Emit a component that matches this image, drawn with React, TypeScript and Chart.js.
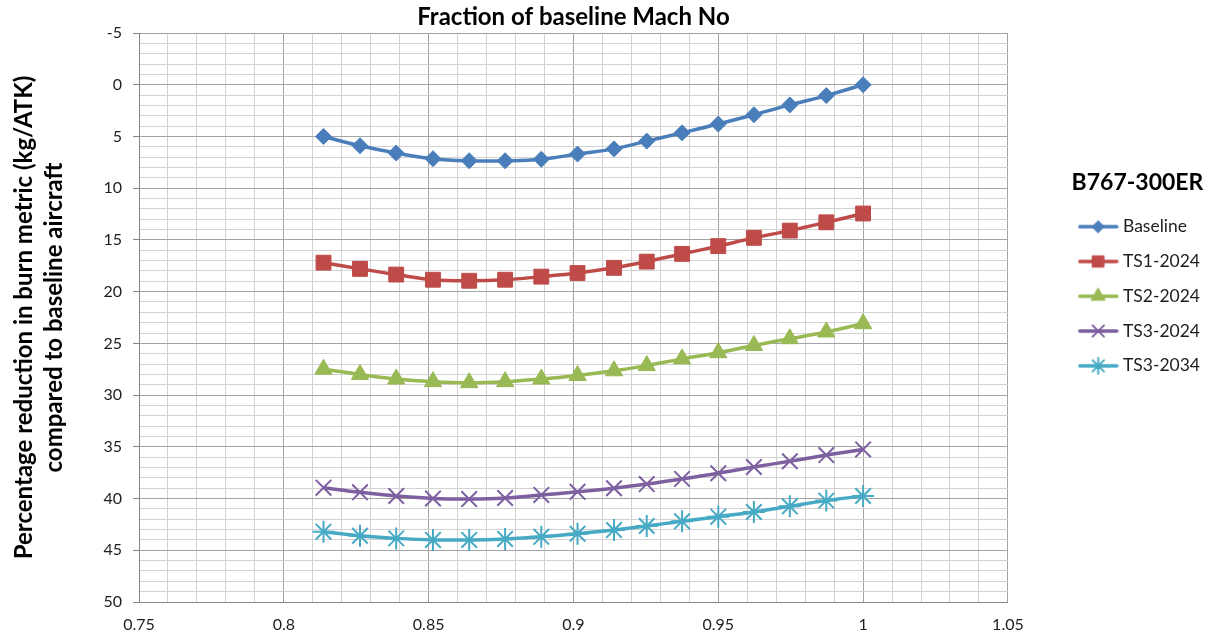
import React, { useEffect, useRef } from "react";
import { Chart, registerables } from "chart.js";
import { drawPoint } from "chart.js/helpers";

Chart.register(...registerables);

const machFraction = [0.8137, 0.8263, 0.8388, 0.8515, 0.864, 0.8764, 0.8889, 0.9014, 0.914, 0.9253, 0.9375, 0.95, 0.9623, 0.9747, 0.9873, 1.0];
const baseline = [5.0, 5.9, 6.6, 7.15, 7.35, 7.35, 7.2, 6.7, 6.2, 5.45, 4.65, 3.8, 2.9, 1.95, 1.05, 0.0];
const ts1_2024 = [17.2, 17.8, 18.35, 18.85, 18.95, 18.85, 18.55, 18.2, 17.7, 17.1, 16.35, 15.6, 14.8, 14.1, 13.3, 12.45];
const ts2_2024 = [27.5, 28.0, 28.45, 28.7, 28.8, 28.7, 28.45, 28.1, 27.65, 27.15, 26.5, 25.9, 25.2, 24.55, 23.9, 23.1];
const ts3_2024 = [38.95, 39.4, 39.75, 40.0, 40.05, 39.95, 39.65, 39.35, 39.0, 38.6, 38.1, 37.55, 36.95, 36.4, 35.8, 35.25];
const ts3_2034 = [43.2, 43.6, 43.85, 44.0, 44.0, 43.9, 43.7, 43.4, 43.05, 42.65, 42.2, 41.75, 41.3, 40.75, 40.2, 39.75];

const seriesNames = ["Baseline", "TS1-2024", "TS2-2024", "TS3-2024", "TS3-2034"];
const seriesData = [baseline, ts1_2024, ts2_2024, ts3_2024, ts3_2034];
const seriesColors = ["#4A7EBB", "#BE4B48", "#98B954", "#7D60A0", "#46AAC5"];
const seriesMarkers = ["rectRot", "rect", "triangle", "crossRot", "star"];
const markerRadius = [8, 10.5, 10, 11, 11];
const legendRadius = [6, 8, 8, 8, 8];
const markerBorder = [1, 1, 1, 2, 2];

const chartTitle = "Fraction of baseline Mach No";
const yTitle = ["Percentage reduction in burn metric (kg/ATK)", "compared to baseline aircraft"];
const legendTitle = "B767-300ER";

const FONT = "Lato, 'Noto Sans', sans-serif";
const TEXT = "#1e1e1e";
const MINOR = "#d2d2d2";
const MAJOR = "#a4a4a4";
const AXIS = "#868686";

function legendIcon(i: number): HTMLCanvasElement {
  const c = document.createElement("canvas");
  c.width = 41;
  c.height = 20;
  const ctx = c.getContext("2d")!;
  ctx.strokeStyle = seriesColors[i];
  ctx.fillStyle = seriesColors[i];
  ctx.lineWidth = 3.5;
  ctx.lineCap = "round";
  ctx.beginPath();
  ctx.moveTo(2, 10);
  ctx.lineTo(39, 10);
  ctx.stroke();
  ctx.lineWidth = markerBorder[i];
  drawPoint(ctx, { pointStyle: seriesMarkers[i] as any, radius: legendRadius[i], rotation: 0, borderWidth: markerBorder[i] }, 20.5, 10);
  return c;
}

export default function App() {
  const ref = useRef<HTMLCanvasElement | null>(null);
  useEffect(() => {
    document.body.style.margin = "0";
    const canvas = ref.current;
    if (!canvas) return;
    const icons = seriesNames.map((_, i) => legendIcon(i));
    const datasets = seriesNames.map((name, i) => ({
      label: name,
      data: machFraction.map((x, j) => ({ x, y: seriesData[i][j] })),
      borderColor: seriesColors[i],
      backgroundColor: seriesColors[i],
      borderWidth: 3.5,
      pointStyle: seriesMarkers[i] as any,
      pointRadius: markerRadius[i],
      pointBorderWidth: markerBorder[i],
      pointBorderColor: seriesColors[i],
      pointBackgroundColor: seriesColors[i],
      tension: 0.4,
      xAxisID: "x",
      yAxisID: "y",
    }));
    const chart = new Chart(canvas, {
      type: "line",
      data: { datasets },
      options: {
        animation: false,
        responsive: false,
        layout: { padding: { left: 0, right: 7, top: 0, bottom: 0 } },
        plugins: {
          tooltip: { enabled: false },
          legend: {
            position: "right",
            align: "start",
            title: {
              display: true,
              text: legendTitle,
              color: "#000",
              font: { family: FONT, size: 23, weight: "bold", lineHeight: 1.2 },
              padding: { top: 171, bottom: 2 },
            },
            labels: {
              usePointStyle: true,
              pointStyleWidth: 32,
              padding: 17.3,
              color: TEXT,
              font: { family: FONT, size: 17.5 },
              generateLabels: (ch: any) =>
                seriesNames.map((name, i) => ({
                  text: name,
                  fillStyle: seriesColors[i],
                  strokeStyle: seriesColors[i],
                  lineWidth: 0,
                  pointStyle: icons[i],
                  hidden: false,
                  datasetIndex: i,
                  fontColor: TEXT,
                })),
            },
          },
        },
        scales: {
          x: {
            type: "linear",
            position: "bottom",
            min: 0.75,
            max: 1.05,
            afterFit: (s: any) => { s.height = 38; },
            ticks: {
              stepSize: 0.01,
              autoSkip: false,
              maxRotation: 0,
              padding: 13,
              color: TEXT,
              font: { family: FONT, size: 16 },
              callback: (v: any) => {
                const r = Math.round(Number(v) * 100);
                return r % 5 === 0 ? String(r / 100) : "";
              },
            },
            grid: {
              drawTicks: false,
              color: (c: any) => (c.tick && Math.round(c.tick.value * 100) % 5 === 0 ? MAJOR : MINOR),
              lineWidth: 1,
            },
            border: { display: true, color: AXIS, width: 1 },
          },
          xTop: {
            type: "linear",
            position: "top",
            display: true,
            afterFit: (s: any) => { s.height = 33; },
            ticks: { display: false },
            grid: { display: false },
            border: { display: false },
            title: {
              display: true,
              text: chartTitle,
              color: "#000",
              font: { family: FONT, size: 24, weight: "bold", lineHeight: 1.2 },
              padding: { top: 3, bottom: 0 },
            },
          },
          gap: {
            type: "linear",
            position: "right",
            display: true,
            afterFit: (s: any) => { s.width = 57; },
            ticks: { display: false },
            grid: { display: false },
            border: { display: false },
          },
          y: {
            type: "linear",
            position: "left",
            reverse: true,
            min: -5,
            max: 50,
            afterFit: (s: any) => { s.width = 139; },
            ticks: {
              stepSize: 1,
              autoSkip: false,
              padding: 11,
              color: TEXT,
              font: { family: FONT, size: 16 },
              callback: (v: any) => (Math.round(Number(v)) % 5 === 0 ? String(v) : ""),
            },
            grid: {
              drawTicks: true,
              tickLength: 6,
              color: (c: any) => (c.tick && Math.round(c.tick.value) % 5 === 0 ? MAJOR : MINOR),
              tickColor: (c: any) => (c.tick && Math.round(c.tick.value) % 5 === 0 ? AXIS : "rgba(0,0,0,0)"),
              lineWidth: 1,
            },
            border: { display: true, color: AXIS, width: 1 },
            title: {
              display: true,
              text: yTitle,
              color: "#000",
              font: { family: FONT, size: 24, weight: "bold", lineHeight: 1.25 },
              padding: { top: 9, bottom: 0 },
            },
          },
        },
      },
    });
    return () => chart.destroy();
  }, []);
  return (
    <div style={{ width: 1217, height: 640, background: "#fff" }}>
      <canvas ref={ref} width={1217} height={640} style={{ display: "block" }} />
    </div>
  );
}
